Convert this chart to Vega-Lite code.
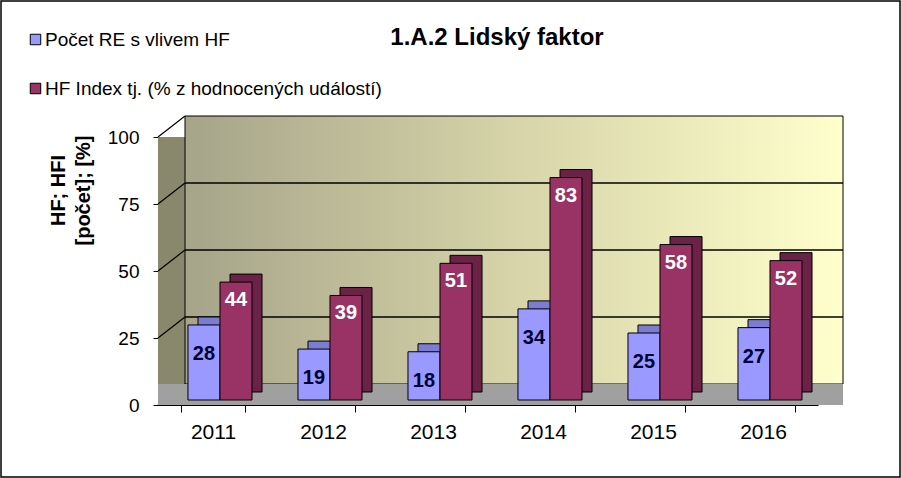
{
  "$schema": "https://vega.github.io/schema/vega-lite/v6.json",
  "width": 660,
  "height": 268,
  "autosize": {"type": "none"},
  "padding": {"left": 158, "top": 137, "right": 83, "bottom": 73},
  "background": "white",
  "config": {"font": "Liberation Sans", "view": {"stroke": null}},
  "title": {"text": "1.A.2 Lidský faktor", "fontSize": 24, "fontWeight": "bold", "anchor": "middle", "dx": 9, "offset": -50, "color": "black", "font": "Liberation Sans"},
  "resolve": {"scale": {"x": "independent"}, "axis": {"x": "independent"}},
  "datasets": {
    "main": [
      {"year": "2011", "series": "Počet RE s vlivem HF", "value": 28},
      {"year": "2011", "series": "HF Index tj. (% z hodnocených událostí)", "value": 44},
      {"year": "2012", "series": "Počet RE s vlivem HF", "value": 19},
      {"year": "2012", "series": "HF Index tj. (% z hodnocených událostí)", "value": 39},
      {"year": "2013", "series": "Počet RE s vlivem HF", "value": 18},
      {"year": "2013", "series": "HF Index tj. (% z hodnocených událostí)", "value": 51},
      {"year": "2014", "series": "Počet RE s vlivem HF", "value": 34},
      {"year": "2014", "series": "HF Index tj. (% z hodnocených událostí)", "value": 83},
      {"year": "2015", "series": "Počet RE s vlivem HF", "value": 25},
      {"year": "2015", "series": "HF Index tj. (% z hodnocených událostí)", "value": 58},
      {"year": "2016", "series": "Počet RE s vlivem HF", "value": 27},
      {"year": "2016", "series": "HF Index tj. (% z hodnocených událostí)", "value": 52}
    ]
  },
  "layer": [
    {
      "data": {"values": [{}]},
      "mark": {"type": "rect", "fill": null, "stroke": "black", "strokeWidth": 1.5, "xOffset": -157, "x2Offset": 82, "yOffset": -136, "y2Offset": 72},
      "encoding": {
        "x": {"value": 0},
        "x2": {"value": "width"},
        "y": {"value": 0},
        "y2": {"value": "height"}
      }
    },
    {
      "data": {"values": [{}]},
      "mark": {"type": "rect", "color": "#8A886C"},
      "encoding": {
        "x": {"value": 0},
        "x2": {"value": "width"},
        "y": {"datum": 0, "type": "quantitative", "scale": {"domain": [0, 100], "nice": false},
          "axis": {"title": ["HF; HFI", "[počet]; [%]"], "titleFontSize": 20, "titleFontWeight": "bold", "titleColor": "black", "titleX": -110, "titleY": 53, "titleAngle": 270, "titleAlign": "center", "titleBaseline": "top", "titleLineHeight": 25, "values": [0, 25, 50, 75, 100], "labelFontSize": 19, "labelColor": "black", "labelPadding": 14, "tickSize": 5, "tickColor": "black", "domainColor": "black", "grid": false, "labelFont": "Liberation Sans"}},
        "y2": {"datum": 100}
      }
    },
    {
      "data": {"values": [{}]},
      "mark": {"type": "rect", "stroke": "black", "strokeWidth": 1, "xOffset": 27, "x2Offset": 25, "yOffset": -21, "y2Offset": -21,
        "color": {"gradient": "linear", "x1": 0, "x2": 1, "y1": 0, "y2": 0, "stops": [{"offset": 0, "color": "#A6A489"}, {"offset": 0.5, "color": "#D6D4A8"}, {"offset": 1, "color": "#FFFFCC"}]}},
      "encoding": {
        "x": {"value": 0},
        "x2": {"value": "width"},
        "y": {"datum": 0, "type": "quantitative"},
        "y2": {"datum": 100}
      }
    },
    {
      "data": {"values": [{"g": 25}, {"g": 50}, {"g": 75}]},
      "mark": {"type": "rule", "color": "black", "strokeWidth": 1.5, "xOffset": 27, "x2Offset": 25, "yOffset": -21, "y2Offset": -21},
      "encoding": {
        "x": {"value": 0},
        "x2": {"value": "width"},
        "y": {"field": "g", "type": "quantitative"},
        "y2": {"field": "g"}
      }
    },
    {
      "data": {"values": [{"g": 0}, {"g": 25}, {"g": 50}, {"g": 75}, {"g": 100}]},
      "mark": {"type": "rule", "color": "black", "strokeWidth": 1.2, "x2Offset": 27, "y2Offset": -21},
      "encoding": {
        "x": {"value": 0},
        "x2": {"value": 0},
        "y": {"field": "g", "type": "quantitative"},
        "y2": {"field": "g"}
      }
    },
    {
      "data": {"values": [{}]},
      "mark": {"type": "rect", "color": "#A0A0A0", "x2Offset": 25, "y2Offset": -21},
      "encoding": {
        "x": {"value": 0},
        "x2": {"value": "width"},
        "y": {"datum": 0, "type": "quantitative"},
        "y2": {"datum": 0}
      }
    },
    {
      "data": {"name": "main"},
      "mark": {"type": "rule", "opacity": 0},
      "encoding": {
        "x": {"field": "year", "type": "nominal", "scale": {"paddingInner": 0.418, "paddingOuter": 0.209},
          "axis": {"title": null, "labelFontSize": 21, "labelColor": "black", "labelPadding": 9, "tickSize": 7, "tickColor": "black", "domainColor": "black", "tickBand": "extent", "labelAngle": 0, "labelFont": "Liberation Sans"}}
      }
    },
    {
      "data": {"name": "main"},
      "transform": [{"filter": "datum.series == 'Počet RE s vlivem HF'"}],
      "mark": {"type": "bar", "stroke": "black", "strokeWidth": 1, "color": "#7C7CD2", "yOffset": -13, "y2Offset": -13},
      "encoding": {
        "x": {"field": "year", "type": "nominal", "scale": {"paddingInner": 0.418, "paddingOuter": 0.209, "align": 0.87}, "axis": null},
        "xOffset": {"field": "series", "type": "nominal", "scale": {"domain": ["Počet RE s vlivem HF", "HF Index tj. (% z hodnocených událostí)"], "paddingInner": 0, "paddingOuter": 0}},
        "y": {"field": "value", "type": "quantitative"}
      }
    },
    {
      "data": {"name": "main"},
      "transform": [{"filter": "datum.series != 'Počet RE s vlivem HF'"}],
      "mark": {"type": "bar", "stroke": "black", "strokeWidth": 1, "color": "#6A2246", "yOffset": -13, "y2Offset": -13},
      "encoding": {
        "x": {"field": "year", "type": "nominal", "scale": {"paddingInner": 0.418, "paddingOuter": 0.209, "align": 0.87}, "axis": null},
        "xOffset": {"field": "series", "type": "nominal"},
        "y": {"field": "value", "type": "quantitative"}
      }
    },
    {
      "data": {"name": "main"},
      "mark": {"type": "bar", "stroke": "black", "strokeWidth": 1, "yOffset": -5, "y2Offset": -5},
      "encoding": {
        "x": {"field": "year", "type": "nominal", "scale": {"paddingInner": 0.418, "paddingOuter": 0.209, "align": 0.652}, "axis": null},
        "xOffset": {"field": "series", "type": "nominal"},
        "y": {"field": "value", "type": "quantitative"},
        "color": {"field": "series", "type": "nominal", "scale": {"domain": ["Počet RE s vlivem HF", "HF Index tj. (% z hodnocených událostí)"], "range": ["#9999FF", "#993366"]},
          "legend": {"orient": "none", "legendX": -132, "legendY": -107, "title": null, "symbolType": "square", "symbolSize": 110, "symbolStrokeColor": "black", "symbolStrokeWidth": 1, "labelFontSize": 19, "labelColor": "black", "rowPadding": 29, "labelOffset": 0, "labelFont": "Liberation Sans", "labelLimit": 500}}
      }
    },
    {
      "data": {"name": "main"},
      "transform": [{"filter": "datum.series == 'Počet RE s vlivem HF'"}],
      "mark": {"type": "text", "fontSize": 20, "fontWeight": "bold", "color": "#000033", "dy": 24, "baseline": "middle", "font": "Liberation Sans"},
      "encoding": {
        "x": {"field": "year", "type": "nominal", "scale": {"paddingInner": 0.418, "paddingOuter": 0.209, "align": 0.652}, "axis": null},
        "xOffset": {"field": "series", "type": "nominal"},
        "y": {"field": "value", "type": "quantitative"},
        "text": {"field": "value", "type": "quantitative"}
      }
    },
    {
      "data": {"name": "main"},
      "transform": [{"filter": "datum.series != 'Počet RE s vlivem HF'"}],
      "mark": {"type": "text", "fontSize": 20, "fontWeight": "bold", "color": "white", "dy": 13, "baseline": "middle", "font": "Liberation Sans"},
      "encoding": {
        "x": {"field": "year", "type": "nominal", "scale": {"paddingInner": 0.418, "paddingOuter": 0.209, "align": 0.652}, "axis": null},
        "xOffset": {"field": "series", "type": "nominal"},
        "y": {"field": "value", "type": "quantitative"},
        "text": {"field": "value", "type": "quantitative"}
      }
    }
  ]
}
